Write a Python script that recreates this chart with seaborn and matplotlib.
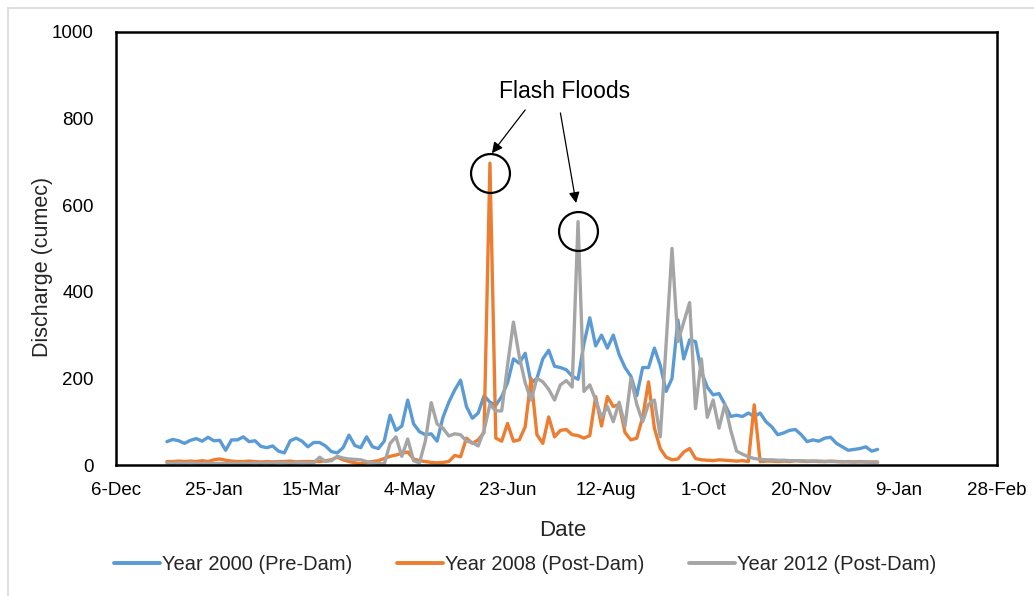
import numpy as np
import pandas as pd
import matplotlib
matplotlib.use("Agg")
import matplotlib.pyplot as plt
import matplotlib.dates as mdates
from matplotlib.ticker import FuncFormatter
from matplotlib.lines import Line2D
import seaborn as sns

# ---------------- data ----------------
day_of_year = np.arange(0, 364, 3)          # sampled every 3 days from 1-Jan

year2000_pre = [54, 59, 56, 50, 57, 61, 55, 64, 56, 57,
                34, 58, 58, 65, 54, 56, 43, 40, 44, 32,
                28, 56, 62, 55, 42, 52, 52, 44, 31, 28,
                40, 69, 45, 40, 65, 42, 38, 55, 115, 80,
                90, 150, 95, 77, 70, 72, 55, 110, 145, 173,
                196, 135, 108, 120, 160, 145, 138, 158, 190, 245,
                235, 258, 190, 200, 245, 265, 228, 225, 220, 205,
                198, 280, 340, 275, 300, 270, 300, 255, 225, 205,
                160, 225, 225, 270, 230, 170, 200, 335, 245, 289,
                285, 215, 180, 162, 165, 140, 112, 115, 112, 120,
                112, 120, 100, 88, 70, 74, 80, 82, 70, 54,
                58, 55, 62, 64, 50, 42, 34, 36, 38, 42,
                32, 36]

year2008_post = [8, 8, 9, 8, 9, 8, 10, 8, 12, 14,
                 11, 9, 8, 8, 9, 8, 7, 8, 7, 8,
                 8, 9, 7, 8, 8, 8, 8, 10, 12, 18,
                 12, 8, 5, 3, 6, 8, 10, 15, 20, 23,
                 27, 30, 14, 10, 8, 6, 5, 6, 8, 22,
                 19, 62, 50, 58, 75, 697, 62, 55, 96, 55,
                 58, 88, 200, 70, 50, 111, 65, 80, 82, 70,
                 68, 62, 68, 158, 90, 158, 135, 140, 75, 58,
                 62, 110, 192, 85, 38, 18, 12, 14, 30, 38,
                 15, 12, 11, 10, 12, 11, 10, 9, 10, 8,
                 139, 8, 9, 9, 8, 9, 8, 10, 9, 8,
                 9, 8, 8, 9, 8, 7, 8, 7, 8, 7,
                 7, 7]

year2012_post = [5, 4, 5, 4, 5, 4, 3, 4, 3, 4,
                 3, 4, 3, 4, 3, 5, 4, 5, 4, 6,
                 5, 4, 5, 6, 5, 5, 18, 8, 10, 20,
                 16, 14, 13, 12, 8, 5, 4, 2, 50, 65,
                 20, 60, 10, 5, 55, 144, 95, 85, 67, 72,
                 70, 55, 52, 44, 80, 140, 125, 125, 230, 330,
                 250, 190, 150, 200, 192, 175, 150, 185, 195, 180,
                 562, 170, 185, 150, 110, 135, 100, 145, 90, 200,
                 140, 100, 140, 150, 65, 280, 500, 285, 330, 375,
                 130, 245, 110, 150, 85, 140, 80, 32, 25, 19,
                 15, 13, 12, 12, 11, 11, 10, 10, 10, 9,
                 9, 9, 8, 8, 8, 8, 7, 7, 7, 7,
                 6, 6]

series_names = ["Year 2000 (Pre-Dam)", "Year 2008 (Post-Dam)", "Year 2012 (Post-Dam)"]
series_colors = ["#5B9BD5", "#ED7D31", "#A5A5A5"]
tick_start, tick_step, n_ticks = "1999-12-06", 50, 10
y_ticks = [0, 200, 400, 600, 800, 1000]

# ---------------- frame ----------------
dates = pd.Timestamp("2000-01-01") + pd.to_timedelta(day_of_year, unit="D")
frames = []
for name, vals in zip(series_names, [year2000_pre, year2008_post, year2012_post]):
    frames.append(pd.DataFrame({"Date": dates, "Discharge": vals, "Series": name}))
df = pd.concat(frames, ignore_index=True)

sns.set_theme(style="white")
plt.rcParams["font.family"] = ["Liberation Sans", "DejaVu Sans"]

fig = plt.figure(figsize=(10.34, 5.96), dpi=100)
ax = fig.add_axes([116 / 1034, 1 - 465 / 596, (997 - 116) / 1034, (465 - 32) / 596])

sns.lineplot(data=df, x="Date", y="Discharge", hue="Series",
             hue_order=series_names, palette=series_colors,
             estimator=None, sort=False, linewidth=2.4, legend=False, ax=ax)

tick_dates = pd.date_range(tick_start, periods=n_ticks, freq=f"{tick_step}D")
ax.set_xlim(tick_dates[0], tick_dates[-1])
ax.set_xticks(tick_dates)
ax.xaxis.set_major_formatter(FuncFormatter(
    lambda v, p: (lambda d: f"{d.day}-{d.strftime('%b')}")(mdates.num2date(v))))
ax.set_ylim(0, 1000)
ax.set_yticks(y_ticks)

ax.tick_params(axis="both", length=0, labelsize=13.5, colors="black")
ax.tick_params(axis="x", pad=12)
ax.tick_params(axis="y", pad=16)
ax.set_xlabel("Date", fontsize=16)
ax.set_ylabel("Discharge (cumec)", fontsize=15.5)
ax.xaxis.set_label_coords(0.507, -0.126)
ax.yaxis.set_label_coords(-0.071, 0.457)
for s in ax.spines.values():
    s.set_visible(True)
    s.set_color("black")
    s.set_linewidth(1.8)
ax.grid(False)

# ---------------- annotation ----------------
d2008 = pd.Series(year2008_post, index=dates)
d2012 = pd.Series(year2012_post, index=dates)
p1_date, p1_val = d2008.idxmax(), d2008.max()
p2_date, p2_val = d2012.idxmax(), d2012.max()

for dte, val in [(p1_date, p1_val), (p2_date, p2_val)]:
    ax.plot([dte], [val - 22], marker="o", markersize=28, markerfacecolor="none",
            markeredgecolor="black", markeredgewidth=1.6, zorder=5)

txt_date = pd.Timestamp("2000-07-22")
ax.text(txt_date, 862, "Flash Floods", fontsize=16.5, ha="center", va="center", color="black")
arrow_kw = dict(arrowstyle="-|>", color="black", lw=0.9, mutation_scale=16,
                shrinkA=0, shrinkB=0)
ax.annotate("", xy=(p1_date + pd.Timedelta(days=1), 720),
            xytext=(pd.Timestamp("2000-07-02"), 820), arrowprops=arrow_kw)
ax.annotate("", xy=(p2_date - pd.Timedelta(days=1), 605),
            xytext=(pd.Timestamp("2000-07-20"), 813), arrowprops=arrow_kw)

# ---------------- legend ----------------
handles = [Line2D([0], [0], color=c, lw=2.8) for c in series_colors]
fig.legend(handles, series_names, loc="center", bbox_to_anchor=(0.508, 1 - 565 / 596),
           ncol=3, frameon=False, fontsize=14.5, handlelength=2.3, handletextpad=0.1,
           columnspacing=2.2)

# light chart-area border
fig.add_artist(Line2D([8 / 1034, 8 / 1034], [0, 1 - 8 / 596], color="#D9D9D9", lw=1.2,
                      transform=fig.transFigure))
fig.add_artist(Line2D([8 / 1034, 1], [1 - 8 / 596, 1 - 8 / 596], color="#D9D9D9", lw=1.2,
                      transform=fig.transFigure))

fig.savefig("out.png", dpi=100)
